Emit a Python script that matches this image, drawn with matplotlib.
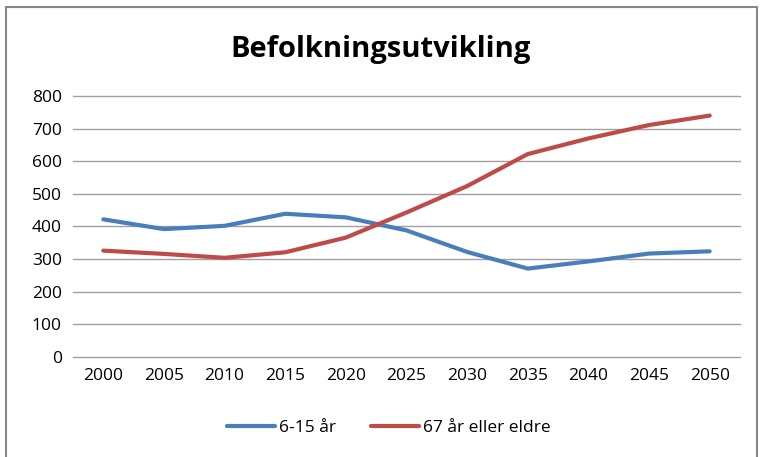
import numpy as np
import matplotlib.pyplot as plt
from matplotlib.patches import Rectangle

years = ['2000', '2005', '2010', '2015', '2020', '2025', '2030', '2035', '2040', '2045', '2050']
age_6_15 = [422, 392, 402, 439, 428, 388, 322, 271, 293, 317, 324]
age_67_plus = [326, 316, 304, 321, 366, 443, 524, 622, 670, 711, 740]

plt.rcParams['font.family'] = ['Open Sans', 'DejaVu Sans']

fig = plt.figure(figsize=(7.62, 4.57), dpi=100)
ax = fig.add_axes([73/762, 1 - 357/457, 667/762, 261/457])

x = np.arange(len(years))
ax.plot(x, age_6_15, color='#4a7ebb', lw=3, label='6-15 år', solid_capstyle='round')
ax.plot(x, age_67_plus, color='#be4b48', lw=3, label='67 år eller eldre', solid_capstyle='round')

ax.set_xlim(-0.5, len(years) - 0.5)
ax.set_ylim(0, 800)
ax.set_yticks(range(0, 801, 100))
ax.set_xticks(x)
ax.set_xticklabels(years)
ax.tick_params(length=0, labelsize=12.5, pad=8)
ax.grid(axis='y', color='#a0a0a0', lw=1)
for gl in ax.get_ygridlines():
    gl.set_clip_on(False)
ax.set_axisbelow(True)
for s in ax.spines.values():
    s.set_visible(False)

fig.text(0.5, 1 - 50/457, 'Befolkningsutvikling', ha='center', va='center',
         fontsize=21, fontweight='bold')

fig.legend(loc='center', bbox_to_anchor=(0.51, 1 - 428/457), ncol=2, frameon=False,
           fontsize=12.5, handlelength=2.8, columnspacing=2.0, handletextpad=0.2)

# chart border
fig.patches.append(Rectangle((6/762, -0.05), 751/762, 1.05 - 7/457, transform=fig.transFigure,
                             fill=False, edgecolor='#888888', lw=1.5))

fig.savefig('out.png', dpi=100)
